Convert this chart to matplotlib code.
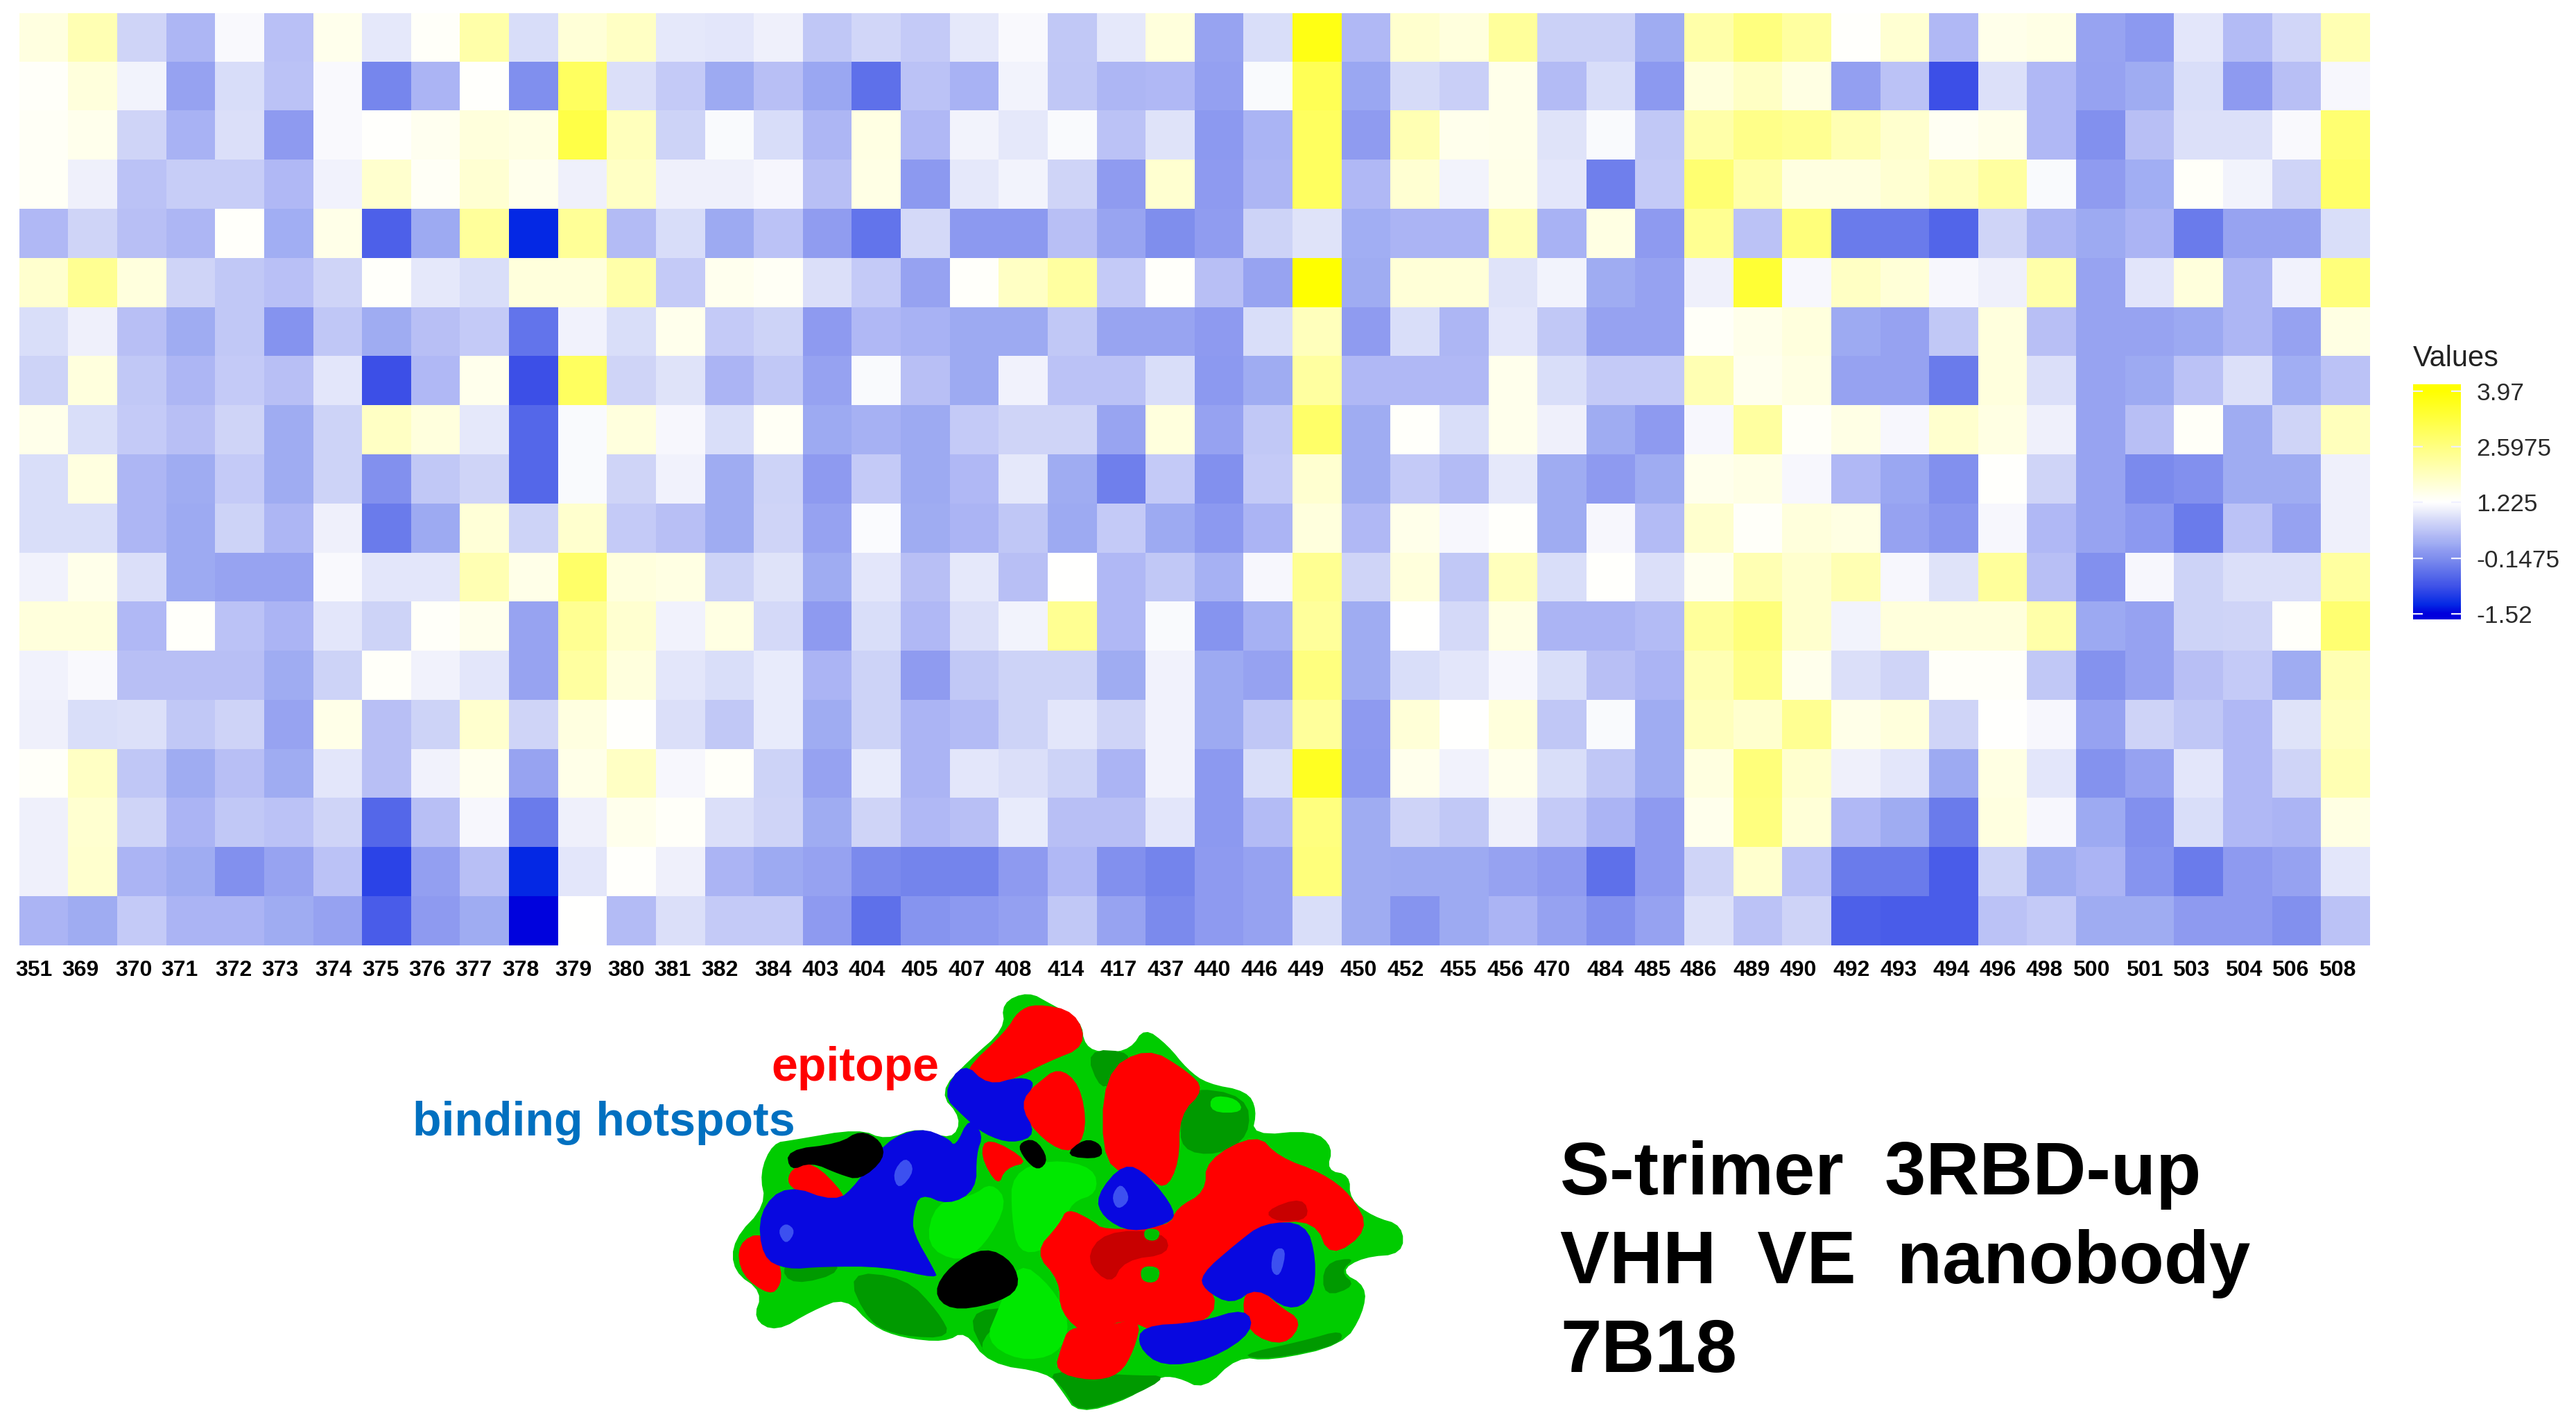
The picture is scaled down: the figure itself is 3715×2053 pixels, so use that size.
import numpy as np
import matplotlib
matplotlib.use("Agg")
import matplotlib.pyplot as plt
from matplotlib.colors import LinearSegmentedColormap, Normalize
from matplotlib.transforms import Bbox

plt.rcParams["font.family"] = ["Liberation Sans", "DejaVu Sans"]

residues = ["351", "369", "370", "371", "372", "373", "374", "375", "376", "377", "378", "379",
            "380", "381", "382", "384", "403", "404", "405", "407", "408", "414", "417", "437",
            "440", "446", "449", "450", "452", "455", "456", "470", "484", "485", "486", "489",
            "490", "492", "493", "494", "496", "498", "500", "501", "503", "504", "506", "508"]

r00 = [1.55, 2.05, .73, .35, 1.15, .48, 1.42, .95, 1.28, 2.15, .82, 1.65, 1.85, .95, .93, 1.05, .55,
       .75, .6, .95, 1.15, .57, .95, 1.6, .12, .83, 3.75, .38, 1.75, 1.58, 2.3, .68, .68, .2,
       2.15, 2.6, 2.25, 1.25, 1.7, .38, 1.45, 1.5, .12, 0, .93, .42, .75, 2.05]
r01 = [1.28, 1.6, 1.08, .1, .82, .5, 1.15, -.25, .33, 1.25, -.14, 2.95, .85, .6, .18, .47, .15,
       -.5, .5, .3, 1.08, .55, .35, .38, .08, 1.17, 3.05, .15, .8, .65, 1.45, .42, .82, 0,
       1.6, 1.85, 1.52, .07, .5, -.87, .87, .38, .1, .2, .83, .02, .47, 1.13]
r02 = [1.32, 1.42, .73, .3, .85, .02, 1.15, 1.25, 1.38, 1.6, 1.52, 3.2, 1.95, .7, 1.17, .82, .35,
       1.52, .38, 1.08, .95, 1.17, .5, .9, 0, .32, 2.95, .03, 2.05, 1.42, 1.45, .9, 1.17, .57,
       2.15, 2.5, 2.4, 2.05, 1.75, 1.35, 1.45, .38, -.12, .47, .87, .87, 1.15, 2.75]
r03 = [1.32, 1.05, .5, .63, .63, .38, 1.07, 1.75, 1.32, 1.7, 1.42, 1.05, 1.85, 1.05, 1.05, 1.12, .47,
       1.5, 0, .95, 1.08, .73, .03, 1.72, .02, .35, 2.95, .38, 1.7, 1.08, 1.47, .93, -.32, .6,
       2.75, 2.15, 1.55, 1.55, 1.7, 1.95, 2.25, 1.17, .03, .22, 1.28, 1.08, .73, 2.85]
r04 = [.38, .73, .47, .35, 1.27, .22, 1.47, -.68, .18, 2.3, -1.3, 2.35, .42, .82, .18, .5, .05,
       -.45, .78, 0, 0, .47, .13, -.15, .05, .7, .9, .22, .33, .33, 2.0, .3, 1.52, .02,
       2.4, .5, 2.65, -.37, -.37, -.62, .73, .35, .18, .33, -.37, .12, .12, .83]
r05 = [1.75, 2.4, 1.58, .73, .57, .48, .73, 1.27, .95, .83, 1.6, 1.6, 2.15, .6, 1.4, 1.33, .85,
       .6, .1, 1.27, 1.85, 2.25, .6, 1.27, .47, .12, 3.97, .2, 1.65, 1.65, .9, 1.08, .2, .1,
       1.05, 3.4, 1.13, 1.85, 1.65, 1.13, 1.05, 2.15, .12, .92, 1.6, .35, 1.07, 2.65]
r06 = [.83, 1.05, .47, .2, .57, -.08, .55, .2, .47, .6, -.45, 1.07, .83, 1.42, .6, .7, .02,
       .38, .3, .18, .18, .57, .13, .13, .02, .83, 1.95, .03, .83, .35, .93, .57, .1, .1,
       1.3, 1.45, 1.58, .18, .1, .57, 1.58, .47, .12, .12, .17, .35, .1, 1.52]
r07 = [.7, 1.58, .57, .35, .6, .47, .93, -.87, .38, 1.42, -.87, 2.95, .73, .9, .33, .57, .1,
       1.17, .47, .18, 1.07, .5, .5, .83, 0, .2, 2.25, .38, .38, .38, 1.42, .83, .6, .6,
       2.05, 1.4, 1.52, .1, .1, -.37, 1.58, .85, .12, .18, .5, .87, .22, .5]
r08 = [1.45, .83, .6, .47, .73, .2, .7, 1.85, 1.58, .95, -.6, 1.17, 1.58, 1.13, .83, 1.33, .18,
       .28, .18, .6, .73, .73, .13, 1.58, .1, .57, 2.85, .2, 1.27, .83, 1.42, 1.05, .2, .02,
       1.13, 2.25, 1.3, 1.5, 1.13, 1.75, 1.52, 1.05, .12, .47, 1.3, .2, .73, 1.95]
r09 = [.83, 1.55, .35, .2, .6, .2, .7, -.12, .57, .73, -.6, 1.17, .73, 1.07, .2, .7, .02,
       .6, .18, .38, .95, .2, -.32, .6, -.12, .6, 1.72, .2, .6, .42, .95, .2, .02, .2,
       1.42, 1.5, 1.13, .38, .15, -.12, 1.25, .73, .12, -.2, -.12, .2, .2, 1.05]
r10 = [.83, .83, .35, .18, .7, .35, 1.05, -.37, .18, 1.65, .7, 1.75, .6, .47, .2, .73, .1,
       1.18, .2, .33, .55, .18, .6, .18, 0, .33, 1.58, .38, 1.45, 1.13, 1.26, .2, 1.13, .42,
       1.75, 1.28, 1.6, 1.52, .1, -.02, 1.13, .38, .12, 0, -.37, .5, .1, 1.05]
r11 = [1.07, 1.45, .85, .18, .12, .12, 1.15, .93, .93, 2.05, 1.47, 2.85, 1.58, 1.52, .7, .9, .2,
       .93, .47, .95, .47, 1.225, .38, .57, .28, 1.13, 2.4, .73, 1.6, .57, 1.95, .83, 1.25, .85,
       1.38, 2.05, 1.75, 2.05, 1.13, .9, 2.3, .47, -.12, 1.13, .7, .85, .85, 2.25]
r12 = [1.6, 1.6, .38, 1.27, .5, .33, .93, .7, 1.28, 1.42, .12, 2.4, 1.72, 1.07, 1.52, .78, .02,
       .83, .38, .85, 1.08, 2.4, .38, 1.17, -.07, .28, 2.3, .2, 1.225, .78, 1.52, .33, .33, .42,
       2.3, 2.65, 1.75, 1.08, 1.6, 1.6, 1.6, 2.15, .17, .1, .7, .73, 1.27, 2.75]
r13 = [1.07, 1.15, .47, .47, .47, .2, .7, 1.28, 1.07, .93, .12, 2.25, 1.58, .93, .83, .98, .33,
       .7, .03, .57, .7, .7, .2, 1.07, .18, .1, 2.6, .2, .83, .93, 1.13, .83, .47, .33,
       2.05, 2.5, 1.42, .85, .73, 1.28, 1.28, .57, -.1, .1, .47, .6, .2, 2.05]
r14 = [1.05, .83, .87, .57, .72, .12, 1.47, .47, .7, 1.75, .73, 1.55, 1.25, .85, .57, .98, .2,
       .7, .33, .42, .7, .93, .73, 1.07, .18, .55, 2.3, .02, 1.65, 1.225, 1.6, .55, 1.17, .2,
       1.95, 1.75, 2.4, 1.47, 1.6, .73, 1.24, 1.13, .1, .72, .55, .38, .9, 1.95]
r15 = [1.28, 1.85, .55, .2, .47, .2, .93, .47, 1.07, 1.4, .12, 1.47, 1.85, 1.13, 1.28, .7, .1,
       .98, .33, .93, .85, .7, .33, 1.07, 0, .83, 3.6, 0, 1.42, 1.07, 1.42, .83, .55, .2,
       1.55, 2.65, 1.75, 1.05, .93, .18, 1.52, .93, -.1, .1, .93, .38, .73, 2.05]
r16 = [1.05, 1.72, .73, .33, .57, .5, .73, -.6, .47, 1.13, -.37, 1.05, 1.42, 1.28, .85, .73, .2,
       .73, .38, .47, .98, .47, .47, .93, 0, .42, 2.6, .2, .72, .57, 1.05, .6, .33, .02,
       1.42, 2.6, 1.65, .38, .2, -.37, 1.55, 1.13, .18, -.12, .83, .38, .33, 1.52]
r17 = [1.05, 1.75, .33, .2, -.12, .12, .5, -1.0, .07, .47, -1.3, .93, 1.26, 1.05, .33, .18, .1,
       -.2, -.27, -.27, .02, .38, -.12, -.27, .02, .1, 2.65, .2, .18, .18, .1, .02, -.5, .02,
       .73, 1.75, .5, -.37, -.37, -.72, .7, .2, .33, -.07, -.37, .02, .1, .93]
r18 = [.33, .2, .6, .33, .33, .2, .1, -.72, .02, .2, -1.5, 1.225, .42, .85, .6, .6, .02,
       -.5, -.07, 0, .08, .57, .12, -.2, .02, .1, .83, .2, -.07, .18, .33, .1, -.12, .1,
       .87, .5, .72, -.68, -.72, -.72, .5, .6, .2, .2, .02, .02, -.12, .5]

legend_ticks = [-1.52, -0.1475, 1.225, 2.5975, 3.97]
legend_labels = ["-1.52", "-0.1475", "1.225", "2.5975", "3.97"]

W, H = 3715, 2053
# x centres of the residue labels in the figure, they drift off the columns a bit
label_px = [49, 116, 193, 259, 337, 404, 481, 549, 616, 683, 751, 827, 903, 970, 1038, 1115,
            1183, 1250, 1326, 1394, 1461, 1537, 1613, 1681, 1748, 1816, 1883, 1959, 2027, 2103,
            2171, 2238, 2315, 2383, 2449, 2526, 2593, 2670, 2738, 2814, 2881, 2948, 3016, 3093,
            3160, 3236, 3303, 3371]


def px_axes(left, top, right, bottom):
    return fig.add_axes([left / W, 1 - bottom / H, (right - left) / W, (bottom - top) / H])


# colormap stops
vmin, vmax = -1.52, 3.97
stops = [(-1.52, "#0000dd"), (-1.3, "#0529e5"), (-0.87, "#3d50e8"), (-0.6, "#5568ea"),
         (-0.37, "#6b7cec"), (-0.15, "#808fee"), (0.05, "#919df1"), (0.2, "#a0adf3"),
         (0.38, "#b0b8f5"), (0.57, "#c2c9f7"), (0.73, "#d0d5f8"), (0.9, "#e0e4fa"),
         (1.05, "#f0f1fc"), (1.225, "#ffffff"), (2.6, "#ffff80"), (3.97, "#ffff00")]
cmap = LinearSegmentedColormap.from_list(
    "bwy", [((v - vmin) / (vmax - vmin), c) for v, c in stops], N=512)
norm = Normalize(vmin, vmax)

fig = plt.figure(figsize=(W / 100, H / 100), dpi=100, facecolor="white")

# heat map
values = np.array([r00, r01, r02, r03, r04, r05, r06, r07, r08, r09,
                   r10, r11, r12, r13, r14, r15, r16, r17, r18])
ax = px_axes(28, 19, 3418, 1363)
ax.imshow(values, cmap=cmap, norm=norm, aspect="auto", interpolation="nearest")
for s in ax.spines.values():
    s.set_visible(False)
ax.set_yticks([])
col_w = (3418 - 28) / len(residues)
ax.set_xticks([(p - 28) / col_w - 0.5 for p in label_px])
ax.set_xticklabels(residues, fontsize=23, fontweight="bold", color="black")
ax.tick_params(axis="x", length=0, pad=15)

# legend
cax = px_axes(3480, 554, 3549, 893)
pad_top, pad_bot = 0.17, 0.137
grad = np.linspace(vmax + pad_top, vmin - pad_bot, 400).reshape(-1, 1)
cax.imshow(grad, cmap=cmap, norm=norm, aspect="auto",
           extent=[0, 1, vmin - pad_bot, vmax + pad_top])
cax.set_xticks([])
for s in cax.spines.values():
    s.set_visible(False)
cax.yaxis.tick_right()
cax.set_yticks(legend_ticks)
cax.set_yticklabels(legend_labels, fontsize=25.5, color="#2a2a2a")
cax.tick_params(axis="y", left=True, right=True, direction="in", length=10, width=1.6,
                color="#f0f0ff", pad=16)
for lab in cax.get_yticklabels():
    if lab.get_text() == "-0.1475":
        lab.set_clip_on(True)
        lab.set_clip_box(Bbox([[3400, 0], [3693, H]]))
fig.text(3480 / W, 1 - 528 / H, "Values", fontsize=30, color="#222222", va="baseline")

# overlay in pixel coordinates for the surface picture and the labels
ov = fig.add_axes([0, 0, 1, 1], facecolor="none")
ov.set_xlim(0, W)
ov.set_ylim(H, 0)
ov.axis("off")


def smooth(pts, n=2):
    p = np.array(pts, dtype=float)
    for _ in range(n):
        q = np.roll(p, -1, axis=0)
        p = np.column_stack([0.75 * p + 0.25 * q, 0.25 * p + 0.75 * q]).reshape(-1, 2)
    return p


def blob(pts, color, z=2, grow=1.0):
    p = smooth(pts)
    # smoothing eats the corners, push the shape back out from its middle
    mid = p.mean(axis=0)
    p = mid + (p - mid) * grow
    ov.fill(550 + p[:, 0] / 1.0453, 1400 + p[:, 1] / 2.401, color=color, lw=0, zorder=z)


outline = [(975, 70), (1010, 115), (1055, 170), (1060, 260), (1090, 285), (1130, 270), (1150, 195),
           (1185, 255), (1215, 340), (1245, 390), (1305, 415), (1320, 480), (1312, 570), (1405, 550),
           (1435, 610), (1425, 690), (1460, 705), (1460, 790), (1495, 850), (1540, 880), (1540, 980),
           (1480, 990), (1445, 1040), (1485, 1090), (1480, 1185), (1450, 1295), (1340, 1350),
           (1290, 1335), (1240, 1450), (1200, 1405), (1170, 1405), (1130, 1480), (1050, 1535),
           (1025, 1450), (1005, 1390), (915, 1360), (880, 1245), (850, 1285), (785, 1270), (740, 1230),
           (700, 1130), (650, 1175), (595, 1250), (560, 1205), (575, 1110), (530, 1040), (530, 930),
           (580, 810), (570, 700), (590, 595), (620, 585), (720, 545), (760, 585), (810, 540),
           (860, 585), (875, 510), (840, 420), (885, 310), (940, 200), (935, 110)]
dark_green = [[(1210, 400), (1305, 430), (1310, 570), (1260, 640), (1205, 620), (1205, 500)],
              [(1060, 270), (1135, 280), (1110, 360), (1085, 420)],
              [(1000, 1380), (1130, 1400), (1190, 1400), (1125, 1480), (1050, 1530), (1030, 1450)],
              [(700, 1040), (790, 1060), (840, 1180), (860, 1270), (785, 1265), (735, 1220)],
              [(880, 1180), (960, 1160), (900, 1280), (915, 1350)],
              [(1390, 1280), (1450, 1240), (1445, 1295), (1340, 1345), (1290, 1330)],
              [(600, 1020), (660, 960), (700, 1040), (620, 1090)],
              [(1420, 1010), (1470, 990), (1445, 1040), (1470, 1090), (1420, 1130)]]
light_green = [[(950, 700), (1010, 650), (1075, 680), (1080, 770), (1040, 800), (1030, 880), (1000, 970),
                (960, 975), (950, 850)],
               [(835, 800), (890, 780), (920, 730), (945, 800), (910, 950), (870, 1010), (820, 950)],
               [(960, 1000), (1010, 1090), (1040, 1220), (1020, 1330), (960, 1350), (910, 1280), (930, 1170)],
               [(1250, 430), (1290, 440), (1300, 490), (1250, 490)]]
red_parts = [[(985, 125), (1040, 150), (1055, 260), (1000, 310), (950, 370), (900, 385), (885, 340),
              (945, 210), (960, 150)],
             [(1020, 345), (1050, 400), (1060, 540), (1040, 620), (1000, 580), (960, 460), (990, 400)],
             [(1155, 285), (1210, 360), (1235, 420), (1200, 500), (1200, 650), (1180, 740), (1150, 680),
              (1095, 670), (1095, 370)],
             [(620, 690), (650, 665), (695, 770), (690, 800), (640, 770), (615, 740)],
             [(575, 910), (600, 1020), (600, 1080), (585, 1115), (545, 1050), (540, 950)],
             [(915, 580), (975, 660), (940, 680), (930, 740), (905, 640)],
             [(1050, 830), (1085, 870), (1100, 900), (1190, 890), (1200, 830), (1240, 780), (1240, 680),
              (1310, 595), (1340, 670), (1400, 720), (1440, 790), (1465, 900), (1410, 990), (1390, 870),
              (1320, 880), (1260, 1000), (1240, 1040), (1260, 1170), (1180, 1230), (1130, 1180),
              (1100, 1210), (1080, 1240), (1040, 1160), (1040, 1060), (1005, 970), (1040, 880)],
             [(1040, 1240), (1080, 1240), (1140, 1210), (1130, 1310), (1110, 1390), (1070, 1410),
              (1020, 1380), (1030, 1300)],
             [(1320, 1090), (1350, 1160), (1385, 1210), (1360, 1290), (1310, 1250), (1300, 1140)]]
dark_red = [[(1090, 900), (1180, 900), (1190, 980), (1120, 1000), (1100, 1090), (1060, 1000)],
            [(1330, 830), (1390, 780), (1400, 860), (1350, 870)]]
blue_parts = [[(810, 555), (850, 590), (860, 620), (880, 520), (900, 580), (890, 640), (890, 760),
               (850, 810), (810, 770), (800, 840), (800, 900), (830, 1020), (835, 1050), (760, 1010),
               (670, 1010), (620, 1020), (585, 980), (580, 830), (620, 740), (690, 800), (720, 740),
               (760, 600)],
              [(880, 320), (915, 400), (960, 370), (985, 390), (960, 460), (985, 560), (950, 590),
               (910, 560), (880, 500), (850, 430)],
              [(1120, 670), (1155, 710), (1195, 830), (1185, 870), (1130, 900), (1090, 850), (1080, 780)],
              [(1330, 880), (1390, 880), (1405, 1000), (1400, 1130), (1365, 1170), (1320, 1090),
               (1285, 1150), (1245, 1100), (1240, 1050), (1290, 950)],
              [(1300, 1170), (1310, 1250), (1250, 1340), (1180, 1365), (1145, 1300), (1150, 1230), (1230, 1220)]]
black_parts = [[(615, 620), (690, 600), (720, 555), (750, 590), (755, 650), (720, 720), (690, 700),
                (650, 660), (620, 690)],
               [(910, 960), (950, 1010), (960, 1100), (920, 1150), (860, 1170), (835, 1110), (860, 1020)],
               [(960, 600), (985, 580), (1005, 650), (990, 690), (970, 650)],
               [(1060, 580), (1085, 600), (1085, 650), (1030, 640)]]
green_holes = [[(1150, 890), (1175, 895), (1170, 935), (1150, 930)],
               [(1145, 1020), (1175, 1025), (1170, 1080), (1145, 1075)]]
highlights = [[(610, 870), (625, 900), (610, 950), (597, 900)],
              [(790, 640), (805, 690), (780, 760), (770, 700)],
              [(1115, 730), (1130, 790), (1110, 830), (1100, 780)],
              [(1345, 960), (1365, 960), (1355, 1060), (1340, 1040)]]

blob(outline, "#00cc00", 2)
for b in dark_green:
    blob(b, "#009a00", 3)
for b in light_green:
    blob(b, "#00e800", 3)
for b in red_parts:
    blob(b, "#ff0000", 4, grow=1.1)
for b in dark_red:
    blob(b, "#c80000", 5)
for b in blue_parts:
    blob(b, "#0808e0", 5, grow=1.06)
for b in black_parts:
    blob(b, "#000000", 6, grow=1.06)
for b in green_holes:
    blob(b, "#00c000", 7)
for b in highlights:
    blob(b, "#3c50f0", 7)

ov.text(1112, 1558, "epitope", color="#ff0000", fontsize=49, fontweight="bold", va="baseline", zorder=8)
ov.text(595, 1637, "binding hotspots", color="#0070c0", fontsize=49, fontweight="bold", va="baseline", zorder=8)

notes = ["S-trimer  3RBD-up", "VHH  VE  nanobody", "7B18"]
for note, y in zip(notes, [1722, 1850, 1978]):
    ov.text(2250, y, note, color="black", fontsize=76.8, fontweight="bold", va="baseline")

fig.savefig("out.png", dpi=100)
